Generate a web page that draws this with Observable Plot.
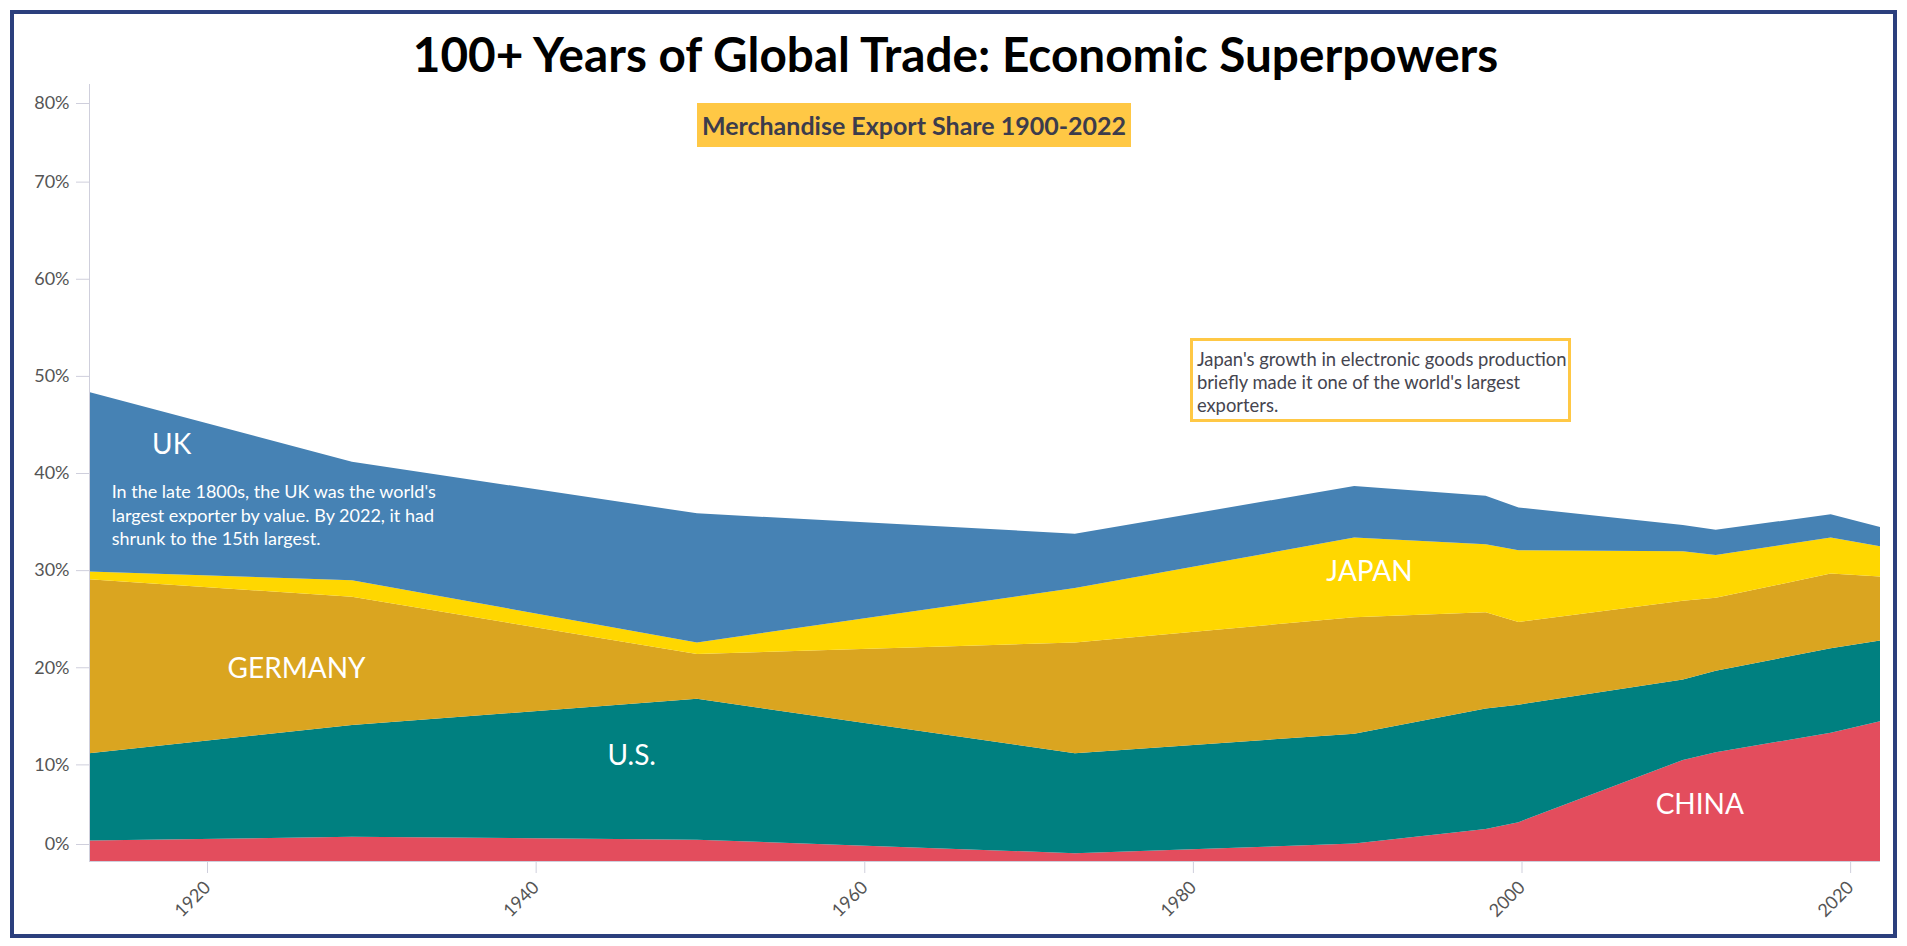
<!DOCTYPE html>
<html><head><meta charset="utf-8">
<script src="https://cdn.jsdelivr.net/npm/d3@7"></script>
<script src="https://cdn.jsdelivr.net/npm/@observablehq/plot@0.6"></script>
<style>
html,body{margin:0;padding:0;background:#fff;overflow:hidden;}
#wrap{position:relative;width:1907px;height:946px;font-family:Lato,"Segoe UI",sans-serif;}
#chart{position:absolute;left:0;top:0;}
#frame{position:absolute;left:10px;top:10px;width:1887px;height:928px;box-sizing:border-box;border:4px solid #2b3f7d;pointer-events:none;}
#title{position:absolute;left:0;width:1911px;top:29.5px;text-align:center;font-weight:700;font-size:47.7px;line-height:48px;color:#000;white-space:nowrap;}
#subtitle{position:absolute;left:697px;top:103px;width:434px;height:44px;background:#ffc845;color:#3c3c4c;font-weight:700;font-size:25px;display:flex;align-items:center;justify-content:center;white-space:nowrap;}
#jnote{position:absolute;box-sizing:border-box;width:381px;height:84px;border:3px solid #ffc845;background:#fff;color:#45454f;font-size:18.4px;line-height:22.8px;padding:7px 4px 0 4px;white-space:pre;}
</style></head>
<body><div id="wrap"><div id="chart"></div><div id="frame"></div>
<div id="title">100+ Years of Global Trade: Economic Superpowers</div>
<div id="subtitle">Merchandise Export Share 1900-2022</div>
<div id="jnote"></div></div>
<script>
const years = [1913, 1929, 1950, 1973, 1990, 1998, 2000, 2010, 2012, 2019, 2022];
const china   = [2.1, 2.5, 2.2, 0.8, 1.8, 3.3, 4.0, 10.4, 11.2, 13.2, 14.4];
const us      = [9.0, 11.5, 14.5, 10.3, 11.3, 12.4, 12.1, 8.3, 8.4, 8.7, 8.3];
const germany = [17.9, 13.2, 4.6, 11.4, 12.0, 9.9, 8.5, 8.1, 7.5, 7.7, 6.6];
const japan   = [0.8, 1.7, 1.2, 5.6, 8.2, 7.0, 7.4, 5.1, 4.4, 3.7, 3.1];
const uk      = [18.5, 12.2, 13.3, 5.6, 5.3, 5.0, 4.4, 2.7, 2.6, 2.4, 2.0];
const countries = ["China", "U.S.", "Germany", "Japan", "UK"];
const colors = ["#e34d5d", "#008080", "#daa520", "#ffd700", "#4682b4"];

const xTicks = [1920, 1940, 1960, 1980, 2000, 2020];
const yTicks = [0, 10, 20, 30, 40, 50, 60, 70, 80];

const labelNames  = ["UK", "GERMANY", "U.S.", "JAPAN", "CHINA"];
const labelYears  = [1918.0, 1925.6, 1946.0, 1990.9, 2011.0];
const labelValues = [42.9, 19.8, 10.9, 29.8, 5.8];

const ukNote = "In the late 1800s, the UK was the world's\nlargest exporter by value. By 2022, it had\nshrunk to the 15th largest.";
const ukNoteYear = [1914.35];
const ukNoteValue = [39.1];
const japanNote = "Japan's growth in electronic goods production\nbriefly made it one of the world's largest\nexporters.";
const japanNoteYear = 1980;
const japanNoteValue = 53.8;

const series = [china, us, germany, japan, uk];
const data = countries.flatMap((c, i) => years.map((yr, j) => ({year: yr, country: c, share: series[i][j]})));

const axisColor = "#cfcfdc";
const tickText = "#555555";
const tickFont = 18;

const plot = Plot.plot({
  width: 1907, height: 946,
  marginLeft: 89, marginRight: 27, marginTop: 84, marginBottom: 85,
  style: {background: "transparent", fontFamily: "Lato, 'Segoe UI', sans-serif"},
  x: {domain: [1913, 2022], axis: null, label: null},
  y: {domain: [0, 80], axis: null, label: null},
  color: {domain: countries, range: colors},
  marks: [
    Plot.areaY(data, {x: "year", y: "share", fill: "country", order: countries}),
    Plot.ruleX([1913], {stroke: axisColor}),
    Plot.ruleY([0], {stroke: axisColor}),
    Plot.axisY(yTicks.filter(d => d > 0 && d < 80), {label: null, tickSize: 13, tickPadding: 7, fontSize: tickFont, stroke: axisColor, fill: tickText, dy: 0.5, tickFormat: d => d + "%"}),
    Plot.axisY([0], {label: null, tickSize: 13, tickPadding: 7, fontSize: tickFont, stroke: axisColor, fill: tickText, dy: -17, tickFormat: d => d + "%"}),
    Plot.axisY([80], {label: null, tickSize: 13, tickPadding: 7, fontSize: tickFont, stroke: axisColor, fill: tickText, dy: 19, tickFormat: d => d + "%"}),
    Plot.axisX(xTicks, {label: null, tickSize: 12, tickPadding: 11, dx: 3, tickRotate: -45, fontSize: tickFont, stroke: axisColor, fill: tickText, tickFormat: d => String(d)}),
    Plot.text(labelNames, {x: (d, i) => labelYears[i], y: (d, i) => labelValues[i], text: d => d, fill: "white", fontSize: 28}),
    Plot.text([ukNote], {x: () => ukNoteYear[0], y: () => ukNoteValue[0], text: d => d, fill: "white", fontSize: 18, textAnchor: "start", lineAnchor: "top", lineHeight: 1.3, lineWidth: Infinity})
  ]
});
document.getElementById("chart").appendChild(plot);

const jn = document.getElementById("jnote");
jn.textContent = japanNote;
jn.style.left = plot.scale("x").apply(japanNoteYear) + "px";
jn.style.top = plot.scale("y").apply(japanNoteValue) + "px";
</script></body></html>
